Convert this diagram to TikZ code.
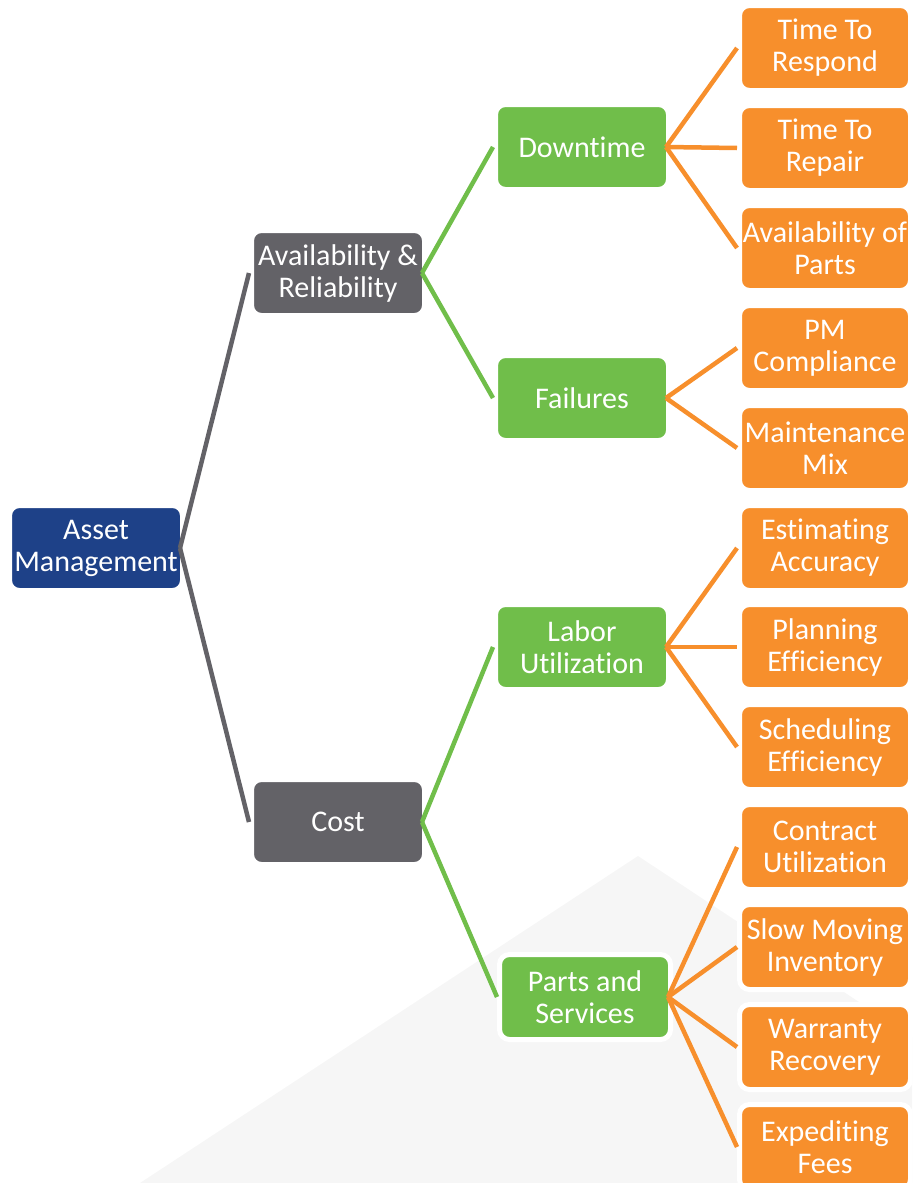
\documentclass[tikz,border=0pt]{standalone}
\usepackage{fontspec}
\setmainfont{Carlito}[RawFeature={-liga;-clig;-dlig;-calt}]
\definecolor{amblue}{RGB}{30,65,136}
\definecolor{amgray}{RGB}{99,98,103}
\definecolor{amgreen}{RGB}{112,190,74}
\definecolor{amorange}{RGB}{247,143,44}
\definecolor{bggray}{RGB}{246,246,246}

\begin{document}
\begin{tikzpicture}[x=0.5pt, y=-0.5pt,
  box/.style={draw=white, line width=2.5pt, rounded corners=5pt, text=white, align=center,
    inner xsep=0pt, inner ysep=0pt, minimum width=86.5pt, minimum height=42.5pt,
    font=\fontsize{15}{16}\selectfont},
  top/.style={box, fill=amblue},
  cat/.style={box, fill=amgray},
  sub/.style={box, fill=amgreen},
  kpi/.style={box, fill=amorange, minimum width=85.5pt},
  link/.style={line width=2.25pt}]
\clip (0,0) rectangle (912,1183);
% background wedge
\fill[bggray] (140,1183) -- (638,856) -- (912,1037) -- (912,1183) -- cycle;

\node[top] (am) at (96,548) {Asset\\Management};
\node[cat] (ar) at (338,273) {Availability \&\\Reliability};
\node[cat] (cost) at (338,822) {Cost};
\node[sub] (dt) at (582,147) {Downtime};
\node[sub] (fl) at (582,398) {Failures};
\node[sub] (lu) at (582,647) {Labor\\Utilization};
\node[sub, minimum width=85.5pt] (ps) at (585,997) {Parts and\\Services};

\node[kpi] (ttr) at (825,48) {Time To\\Respond};
\node[kpi] (trp) at (825,148) {Time To\\Repair};
\node[kpi] (ap) at (825,248) {Availability of\\Parts};
\node[kpi] (pm) at (825,348) {PM\\Compliance};
\node[kpi] (mm) at (825,448) {Maintenance\\Mix};
\node[kpi] (ea) at (825,548) {Estimating\\Accuracy};
\node[kpi] (pe) at (825,647) {Planning\\Efficiency};
\node[kpi] (se) at (825,747) {Scheduling\\Efficiency};
\node[kpi] (cu) at (825,847) {Contract\\Utilization};
\node[kpi] (sm) at (825,947) {Slow Moving\\Inventory};
\node[kpi] (wr) at (825,1047) {Warranty\\Recovery};
\node[kpi] (ef) at (825,1147) {Expediting\\Fees};

\draw[link, amgray] ([xshift=-2.5pt]am.east) -- (ar.west);
\draw[link, amgray] ([xshift=-2.5pt]am.east) -- (cost.west);
\draw[link, amgreen] ([xshift=-2.5pt]ar.east) -- (dt.west);
\draw[link, amgreen] ([xshift=-2.5pt]ar.east) -- (fl.west);
\draw[link, amgreen] ([xshift=-2.5pt]cost.east) -- (lu.west);
\draw[link, amgreen] ([xshift=-2.5pt]cost.east) -- (ps.west);
\foreach \k in {ttr,trp,ap}
  \draw[link, amorange] ([xshift=-2.5pt]dt.east) -- (\k.west);
\foreach \k in {pm,mm}
  \draw[link, amorange] ([xshift=-2.5pt]fl.east) -- (\k.west);
\foreach \k in {ea,pe,se}
  \draw[link, amorange] ([xshift=-2.5pt]lu.east) -- (\k.west);
\foreach \k in {cu,sm,wr,ef}
  \draw[link, amorange] ([xshift=-2.5pt]ps.east) -- (\k.west);
\end{tikzpicture}
\end{document}
